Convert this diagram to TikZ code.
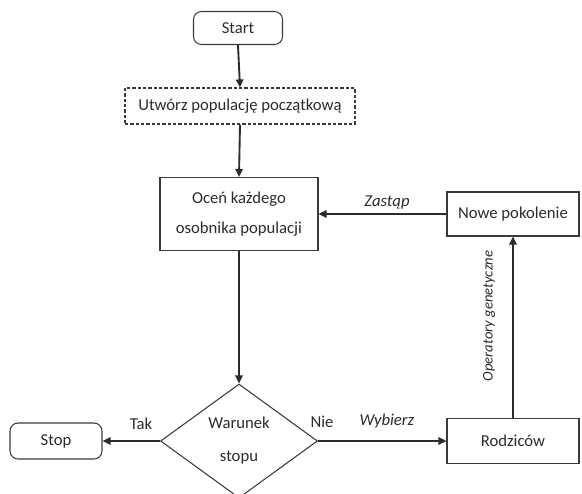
\documentclass[tikz,border=0pt]{standalone}
\usepackage{fontspec}
\setmainfont{Carlito}
\usetikzlibrary{arrows.meta,shapes.geometric}
\definecolor{ink}{HTML}{2B2B2B}
\definecolor{edge}{HTML}{3A3A3A}
\tikzset{
  box/.style={draw=edge, line width=0.8pt, rectangle, inner sep=0pt, text=ink, font=\fontsize{12.5}{15}\selectfont, align=center},
  rbox/.style={box, rounded corners=6pt},
  dbox/.style={box, dashed, dash pattern=on 2.5pt off 1.5pt, line width=0.9pt},
  dia/.style={draw=edge, line width=0.8pt, diamond, inner sep=0pt},
  conn/.style={draw=ink, line width=1.4pt, -{Triangle[length=6pt,width=5.5pt]}},
  lbl/.style={text=ink, font=\fontsize{12.5}{15}\selectfont, inner sep=0pt},
  ilbl/.style={lbl, font=\fontsize{12.5}{15}\selectfont\itshape}
}
\begin{document}
\begin{tikzpicture}[x=0.75pt,y=-0.75pt]
\useasboundingbox (0,0) rectangle (582,493);
\node[rbox, minimum width=66.75pt, minimum height=24.75pt] (start) at (238,28) {Start};
\node[dbox, minimum width=172.5pt, minimum height=27pt] (init) at (240,106) {Utwórz populację początkową};
\node[box, minimum width=118.5pt, minimum height=54.75pt, font=\fontsize{12.5}{23}\selectfont] (eval) at (239,214) {Oceń każdego\\osobnika populacji};
\node[box, minimum width=99pt, minimum height=33pt] (newgen) at (513,214) {Nowe pokolenie};
\node[box, minimum width=99pt, minimum height=33.75pt] (parents) at (513,441) {Rodziców};
\node[rbox, minimum width=69pt, minimum height=27pt] (stop) at (56,441) {Stop};
\node[dia, minimum width=117.75pt, minimum height=85.5pt] (cond) at (239,441) {};
\node[lbl, align=center, font=\fontsize{12.5}{24.75}\selectfont] (condtxt) at (239,441) {Warunek\\stopu};
\draw[conn] (start.south) -- (init.north);
\draw[conn] (init.south) -- (eval.north);
\draw[conn] (eval.south) -- (cond.north);
\draw[conn] (cond.west) -- (stop.east);
\draw[conn] (cond.east) -- (parents.west);
\draw[conn] (parents.north) -- (newgen.south);
\draw[conn] (newgen.west) -- (eval.east);
\node[lbl] (tak) at (141,424) {Tak};
\node[lbl] (nie) at (322,422) {Nie};
\node[ilbl] (wyb) at (387,421) {Wybierz};
\node[ilbl] (zast) at (387,202) {Zastąp};
\node[ilbl, rotate=90, font=\fontsize{11}{13}\selectfont\itshape] (oper) at (489,316) {Operatory genetyczne};
\end{tikzpicture}
\end{document}
